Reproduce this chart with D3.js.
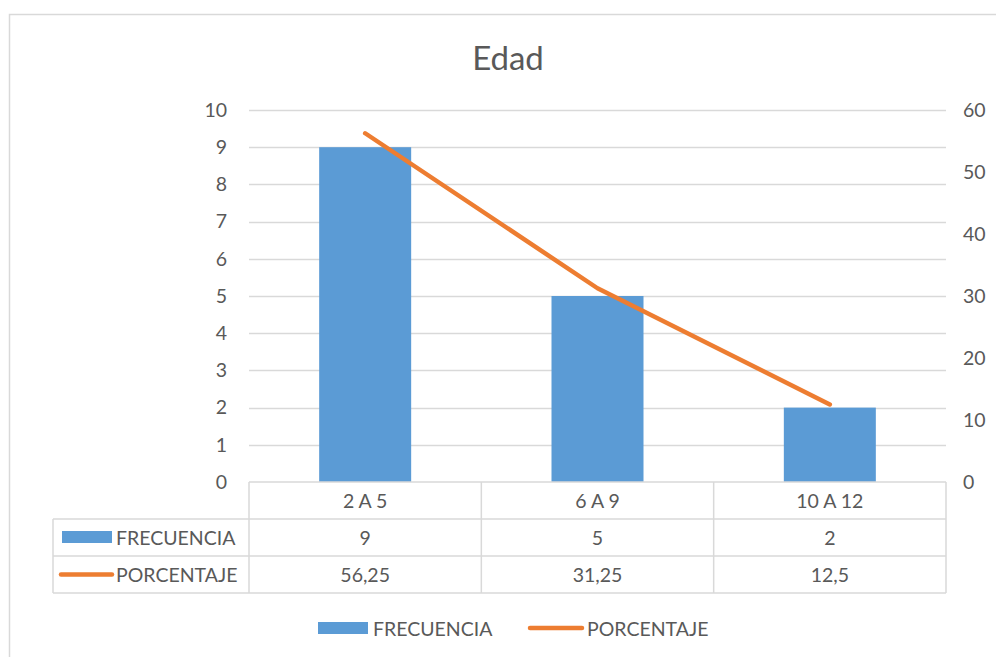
<!DOCTYPE html>
<html>
<head>
<meta charset="utf-8">
<script src="https://cdn.jsdelivr.net/npm/d3@7"></script>
<style>
  html, body { margin: 0; padding: 0; background: #fff; }
  svg { display: block; font-family: Lato, "Open Sans", sans-serif; }
</style>
</head>
<body>
<svg id="chart" width="996" height="657"></svg>
<script>
// Age groups with their counts and percentages
const categories = ["2 A 5", "6 A 9", "10 A 12"];
const frecuencia = [9, 5, 2];
const porcentaje = [56.25, 31.25, 12.5];
const leftTicks = [0, 1, 2, 3, 4, 5, 6, 7, 8, 9, 10];
const rightTicks = [0, 10, 20, 30, 40, 50, 60];
const seriesNames = ["FRECUENCIA", "PORCENTAJE"];
const title = "Edad";

const fmt = v => String(v).replace(".", ",");

const svg = d3.select("#chart");
const W = 996, H = 657;
const textColor = "#595959";
const gridColor = "#d9d9d9";
const barColor = "#5b9bd5";
const lineColor = "#ed7d31";
const fs = 19.5;

// Chart frame
svg.append("rect")
  .attr("x", 9.5).attr("y", 14.5)
  .attr("width", W + 10).attr("height", H + 10)
  .attr("fill", "none").attr("stroke", gridColor).attr("stroke-width", 1.5);

const plot = { left: 249, right: 946, top: 110, bottom: 482 };

const x = d3.scaleBand().domain(categories).range([plot.left, plot.right]).paddingInner(0).paddingOuter(0);
const yL = d3.scaleLinear().domain([0, 10]).range([plot.bottom, plot.top]);
const yR = d3.scaleLinear().domain([0, 60]).range([plot.bottom, plot.top]);

// Title
svg.append("text")
  .attr("x", 508).attr("y", 70)
  .attr("text-anchor", "middle")
  .attr("font-size", 33).attr("fill", textColor)
  .text(title);

// Gridlines
svg.append("g").selectAll("line").data(leftTicks.filter(d => d > 0)).join("line")
  .attr("x1", plot.left).attr("x2", plot.right)
  .attr("y1", d => Math.round(yL(d)) + 0.5).attr("y2", d => Math.round(yL(d)) + 0.5)
  .attr("stroke", gridColor).attr("stroke-width", 1.5);

// Left axis labels
const axL = d3.axisLeft(yL).tickValues(leftTicks).tickSize(0).tickPadding(0);
const gL = svg.append("g").attr("transform", `translate(${plot.left - 22},0)`).call(axL);
gL.select(".domain").remove();
gL.selectAll("text").attr("font-size", fs).attr("fill", textColor).attr("font-family", "Lato, sans-serif");

// Right axis labels
const axR = d3.axisRight(yR).tickValues(rightTicks).tickSize(0).tickPadding(0);
const gR = svg.append("g").attr("transform", `translate(${plot.right + 17},0)`).call(axR);
gR.select(".domain").remove();
gR.selectAll("text").attr("font-size", fs).attr("fill", textColor).attr("font-family", "Lato, sans-serif");

// Bars
const barW = 92;
svg.append("g").selectAll("rect").data(frecuencia).join("rect")
  .attr("x", (d, i) => x(categories[i]) + x.bandwidth() / 2 - barW / 2)
  .attr("width", barW)
  .attr("y", d => yL(d))
  .attr("height", d => yL(0) - yL(d))
  .attr("fill", barColor);

// Percentage line
const line = d3.line()
  .x((d, i) => x(categories[i]) + x.bandwidth() / 2)
  .y(d => yR(d));
svg.append("path").datum(porcentaje)
  .attr("d", line)
  .attr("fill", "none").attr("stroke", lineColor)
  .attr("stroke-width", 4.5).attr("stroke-linecap", "round").attr("stroke-linejoin", "round");

// Data table
const rowH = 37;
const tableLeft = 53;
const rows = [plot.bottom, plot.bottom + rowH, plot.bottom + 2 * rowH, plot.bottom + 3 * rowH];
const tg = svg.append("g").attr("stroke", gridColor).attr("stroke-width", 1.5);
// horizontal lines
tg.append("line").attr("x1", plot.left).attr("x2", plot.right).attr("y1", rows[0]).attr("y2", rows[0]);
[rows[1], rows[2], rows[3]].forEach(yy => {
  tg.append("line").attr("x1", tableLeft).attr("x2", plot.right).attr("y1", yy).attr("y2", yy);
});
// vertical lines
tg.append("line").attr("x1", tableLeft).attr("x2", tableLeft).attr("y1", rows[1]).attr("y2", rows[3]);
categories.forEach(c => {
  tg.append("line").attr("x1", x(c)).attr("x2", x(c)).attr("y1", rows[0]).attr("y2", rows[3]);
});
tg.append("line").attr("x1", plot.right).attr("x2", plot.right).attr("y1", rows[0]).attr("y2", rows[3]);

const cellText = (tx, ty, s, anchor) => svg.append("text")
  .attr("x", tx).attr("y", ty).attr("text-anchor", anchor || "middle")
  .attr("dominant-baseline", "central")
  .attr("font-size", fs).attr("fill", textColor).text(s);

categories.forEach((c, i) => {
  const cx = x(c) + x.bandwidth() / 2;
  cellText(cx, rows[0] + rowH / 2, c);
  cellText(cx, rows[1] + rowH / 2, fmt(frecuencia[i]));
  cellText(cx, rows[2] + rowH / 2, fmt(porcentaje[i]));
});

// Row headers with series keys
svg.append("rect").attr("x", 62).attr("y", rows[1] + 12).attr("width", 50).attr("height", 12).attr("fill", barColor);
cellText(116, rows[1] + rowH / 2, seriesNames[0], "start");
svg.append("line").attr("x1", 61).attr("x2", 112).attr("y1", rows[2] + 18.5).attr("y2", rows[2] + 18.5)
  .attr("stroke", lineColor).attr("stroke-width", 4.5).attr("stroke-linecap", "round");
cellText(116, rows[2] + rowH / 2, seriesNames[1], "start");

// Legend
const ly = 628;
svg.append("rect").attr("x", 318).attr("y", ly - 6).attr("width", 50).attr("height", 12).attr("fill", barColor);
cellText(373, ly, seriesNames[0], "start");
svg.append("line").attr("x1", 530).attr("x2", 582).attr("y1", ly).attr("y2", ly)
  .attr("stroke", lineColor).attr("stroke-width", 4.5).attr("stroke-linecap", "round");
cellText(587, ly, seriesNames[1], "start");
</script>
</body>
</html>
